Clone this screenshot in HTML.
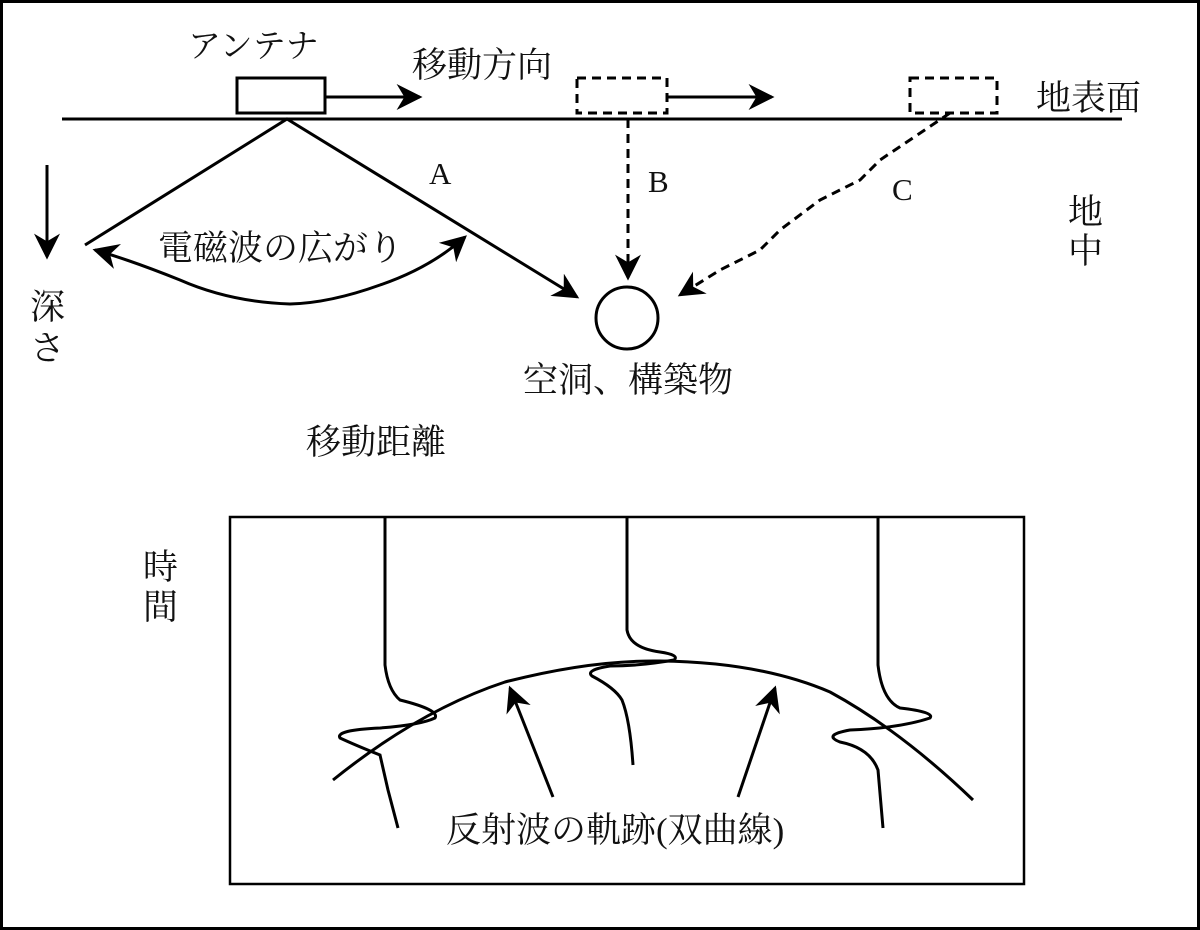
<!DOCTYPE html><html><head><meta charset="utf-8"><style>body{margin:0;background:#fff}svg{display:block}text{font-family:"Liberation Serif","Noto Serif CJK SC",serif;fill:#111}</style></head><body>
<svg width="1200" height="930" viewBox="0 0 1200 930">
<defs><marker id="b" viewBox="0 0 10 10" refX="9" refY="5" markerWidth="26" markerHeight="26" orient="auto-start-reverse" markerUnits="userSpaceOnUse"><path d="M0,0L10,5L0,10L3,5z" fill="#000"/></marker></defs>
<rect x="1.5" y="1.5" width="1197" height="927" fill="none" stroke="#000" stroke-width="3"/>
<g stroke="#000" stroke-width="3" fill="none">
<line x1="62" y1="119" x2="1122" y2="119"/>
<rect x="237" y="78" width="88" height="35" fill="#fff"/>
<line x1="325" y1="97" x2="420" y2="97" marker-end="url(#b)"/>
<rect x="577" y="78" width="90" height="35" stroke-dasharray="9,6"/>
<line x1="667" y1="97" x2="772" y2="97" marker-end="url(#b)"/>
<rect x="910" y="78" width="87" height="35" stroke-dasharray="9,6"/>
<polyline points="85,245 287,119 577,297" marker-end="url(#b)"/>
<path d="M465,237 Q430,268 380,285 Q330,303 290,304 Q230,302 180,280 Q130,260 95,250" marker-start="url(#b)" marker-end="url(#b)"/>
<line x1="47" y1="165" x2="47" y2="257" marker-end="url(#b)"/>
<line x1="628" y1="119" x2="628" y2="278" stroke-dasharray="9,6" marker-end="url(#b)"/>
<polyline points="950,113 880,160 860,180 820,200 780,230 760,250 720,270 680,295" stroke-dasharray="9,6" marker-end="url(#b)"/>
<circle cx="627" cy="318" r="31"/>
<rect x="230" y="517" width="794" height="367" stroke-width="2.5"/>
<path d="M333,780 Q420,710 505,682 Q590,660 660,661 Q760,662 830,692 Q900,730 973,800"/>
<path d="M385,517 L385,665 Q388,690 400,700 Q440,710 435,718 Q420,725 380,728 Q335,730 340,738 Q355,745 380,755 L388,790 L398,828"/>
<path d="M627,517 L627,630 Q630,648 660,652 Q680,655 674,660 Q640,666 610,666 Q585,670 592,676 Q615,688 622,700 Q630,720 633,765"/>
<path d="M878,517 L878,665 Q882,700 900,708 Q935,712 930,718 Q900,728 850,730 Q822,735 840,742 Q870,748 878,770 L883,828"/>
<line x1="553" y1="797" x2="510" y2="688" marker-end="url(#b)"/>
<line x1="738" y1="797" x2="775" y2="688" marker-end="url(#b)"/>
</g>
<g font-size="35">
<text x="188" y="57" font-size="33">アンテナ</text>
<text x="412" y="77">移動方向</text>
<text x="1036" y="110">地表面</text>
<text x="429" y="184" font-size="31">A</text>
<text x="648" y="192" font-size="31">B</text>
<text x="892" y="200" font-size="31">C</text>
<text x="1068" y="224">地</text><text x="1068" y="263">中</text>
<text x="30" y="319">深</text><text x="30" y="360">さ</text>
<text x="158" y="260">電磁波の広がり</text>
<text x="523" y="392">空洞、構築物</text>
<text x="306" y="454">移動距離</text>
<text x="143" y="579">時</text><text x="143" y="619">間</text>
<text x="446" y="842">反射波の軌跡(双曲線)</text>
</g>
</svg></body></html>
